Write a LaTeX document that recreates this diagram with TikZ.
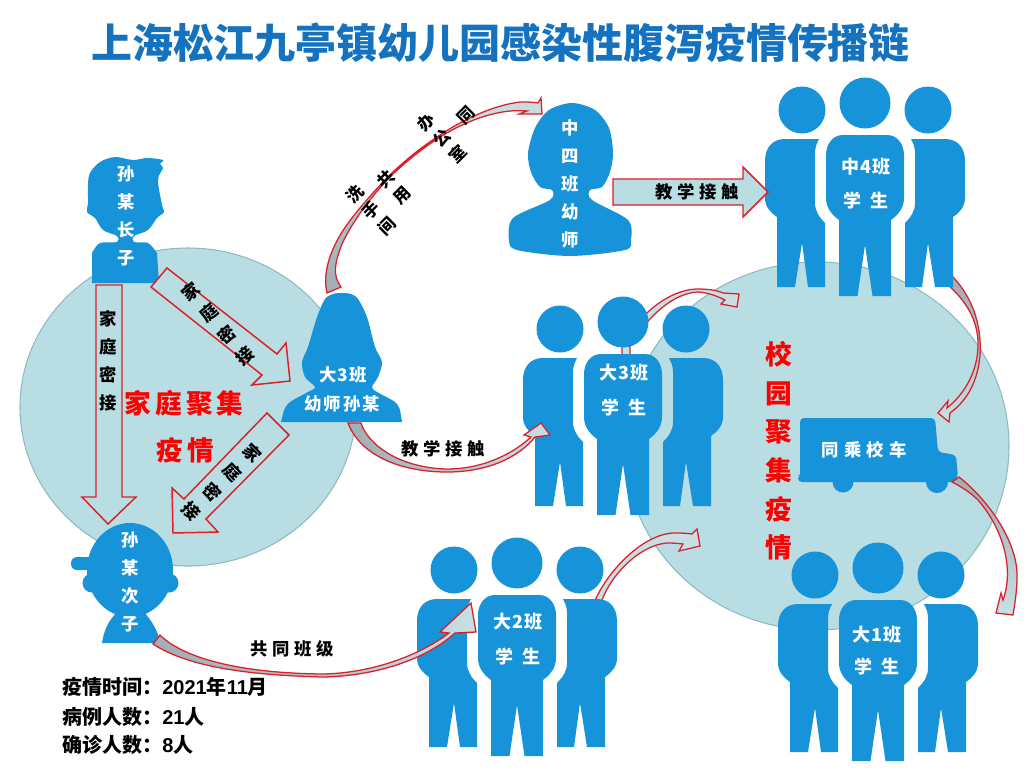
\documentclass[tikz,border=0pt]{standalone}
\usepackage{fontspec}
\setmainfont{Noto Sans CJK SC}
\newfontfamily\digitfont{Liberation Sans}
\definecolor{figblue}{HTML}{1793DA}
\definecolor{pool}{HTML}{B8DDE3}
\definecolor{poolline}{HTML}{8DBBC2}
\definecolor{arrowred}{HTML}{DC1F28}
\definecolor{titleblue}{HTML}{1472BE}
\definecolor{basegray}{HTML}{A0AEB5}
\definecolor{tipblue}{HTML}{C8DFE4}
\tikzset{
  x=0.75pt,y=-0.75pt,
  poolshape/.style={fill=pool,draw=poolline,line width=0.8pt},
  personfill/.style={fill=figblue},
  flatarrow/.style={fill=pool,draw=arrowred,line width=1.1pt,line join=miter},
  taperarrow/.style={draw=arrowred,line width=0.95pt,line join=miter},
  wlabel/.style={text=white,font=\bfseries\fontsize{13}{21}\selectfont,align=center,inner sep=0pt},
  klabel/.style={text=black,font=\bfseries\fontsize{13}{21}\selectfont,align=center,inner sep=0pt},
  rotlabel/.style={text=black,font=\bfseries\fontsize{12.5}{17}\selectfont,align=center,inner sep=0pt},
  rlabel/.style={text=red,font=\bfseries\fontsize{20}{29}\selectfont,align=center,inner sep=0pt},
  info/.style={text=black,font=\bfseries\fontsize{15}{18}\selectfont,anchor=west,inner sep=0pt},
}
\newcommand{\dg}[1]{{\digitfont #1}}
\newcommand{\trio}[2]{%
  \begin{scope}[shift={(#1,#2)}]
    \fill[personfill] (0,0) circle[radius=25.5];
    \fill[personfill] (-22,32) -- (22,32) .. controls (33,32) and (39,42) .. (39,52) -- (39,95)
      .. controls (39,105) and (33,112) .. (26,117) -- (26,193) -- (7.5,193) -- (0,142)
      -- (-7.5,193) -- (-26,193) -- (-26,117) .. controls (-33,112) and (-39,105) .. (-39,95)
      -- (-39,52) .. controls (-39,42) and (-33,32) .. (-22,32) -- cycle;
    \foreach \s in {-1,1}{
      \begin{scope}[xscale=\s]
        \fill[personfill] (-63,7) circle[radius=23.5];
        \fill[personfill] (-46,36) -- (-80,36) .. controls (-92,36) and (-100,44) .. (-100,58)
          -- (-100,95) .. controls (-100,104) and (-94,110) .. (-88,114) -- (-88,184) -- (-70,184)
          -- (-63,140) -- (-57,184) -- (-40,184) -- (-40,120) .. controls (-46,114) and (-50,108) .. (-50,100)
          -- (-50,50) .. controls (-50,44) and (-48,40) .. (-46,36) -- cycle;
      \end{scope}
    }
  \end{scope}}
\begin{document}
\begin{tikzpicture}
\useasboundingbox (0,0) rectangle (1035,779);

% pools
\draw[poolshape] (188,407) ellipse[x radius=168,y radius=159];
\draw[poolshape] (817,446) ellipse[x radius=192,y radius=184];

% arrows that run behind the figures
\path[taperarrow,left color=tipblue,right color=tipblue]
  (622,356) -- (622,346) .. controls (635,320) and (665,290) .. (697,289)
  .. controls (708,289) and (716,290) .. (723,293) -- (739,294) -- (737,307) -- (721,304) -- (725,300)
  .. controls (715,295) and (705,292) .. (697,292) .. controls (668,294) and (642,325) .. (630,346) -- (630,356) -- cycle;
\path[taperarrow,top color=basegray,bottom color=tipblue]
  (948,285) -- (953,277) .. controls (972,297) and (982,325) .. (980,355)
  .. controls (978,380) and (968,400) .. (950,413) -- (949,422) -- (938,413) -- (948,401) -- (947,408)
  .. controls (962,396) and (977,375) .. (978,347) .. controls (979,320) and (965,300) .. (948,285) -- cycle;
\path[taperarrow,left color=tipblue,right color=tipblue]
  (594,603) .. controls (605,575) and (640,535) .. (673,533) .. controls (680,533) and (686,533) .. (692,534)
  -- (697,529) -- (700,546) -- (679,551) -- (683,544) .. controls (675,543) and (670,543) .. (667,543)
  .. controls (640,545) and (610,575) .. (601,603) -- cycle;

% people
\trio{865}{103}
\trio{623}{322}
\trio{517}{563}
\trio{878}{568}

% elder son
\fill[personfill] (92,283) -- plot[smooth,tension=.55] coordinates {(92,253) (100,243) (117,242) (117,236) (103,230) (95,218) (87,212) (88,203) (88,185) (90,173) (100,162) (115,157) (133,160) (147,158) (163,160) (160,164) (163,168) (158,180) (162,205) (164,212) (157,218) (148,230) (134,236) (134,242) (148,243) (157,253)} -- (159,283) -- cycle;
% teacher Sun
\fill[personfill] (281,422) -- plot[smooth,tension=.5] coordinates {(284,410) (290,402) (308,392) (315,387) (305,377) (302,362) (308,347) (317,317) (325,299) (333,294) (342,293) (351,294) (358,299) (367,317) (375,347) (382,362) (378,377) (372,387) (377,392) (395,402) (400,410)} -- (402,422) -- cycle;
% middle-class teacher
\fill[personfill] plot[smooth cycle,tension=.5] coordinates {(572,103) (595,110) (609,128) (613,153) (610,172) (602,187) (590,190) (592,200) (628,220) (631,240) (625,250) (570,256) (517,250) (509,240) (513,218) (550,200) (552,190) (540,187) (531,172) (528,153) (535,128) (549,110)};
% younger son
\fill[personfill] (130,570) ellipse[x radius=43,y radius=47];
\fill[personfill] (92,583) circle[radius=9.5];
\fill[personfill] (169,583) circle[radius=9.5];
\fill[personfill] (102,643) .. controls (104,630) and (108,622) .. (116,613) -- (145,613) .. controls (152,622) and (158,630) .. (160,643) -- cycle;
\fill[personfill,rounded corners=4.5pt] (71,557) rectangle (95,570);
% bus
\fill[personfill,rounded corners=3pt] (800,478) -- (800,418) -- (935,418) -- (938,452) -- (956,455) -- (958,477) -- (954,482) -- (798,482) -- (798,475) -- cycle;
\fill[personfill] (843,482) circle[radius=10.5];
\fill[personfill] (937,482) circle[radius=11];

% straight arrows
\draw[flatarrow] (96,285) -- (122,285) -- (122,497) -- (136,497) -- (108,524) -- (82,497) -- (96,497) -- cycle;
\draw[flatarrow] (167,268) -- (151,287) -- (262,375) -- (252,385) -- (290,381) -- (286,343) -- (277,354) -- cycle;
\draw[flatarrow] (267,413) -- (289,435) -- (206,519) -- (218,532) -- (173,533) -- (172,488) -- (184,499) -- cycle;
\draw[flatarrow] (613,179) -- (743,179) -- (743,167) -- (768,192) -- (743,217) -- (743,205) -- (613,205) -- cycle;

% tapered arrows in front
\path[taperarrow,bottom color=basegray,top color=tipblue]
  (327,293) .. controls (323,275) and (328,255) .. (342,232) .. controls (355,212) and (375,190) .. (393,172)
  .. controls (410,156) and (425,145) .. (437,137) .. controls (465,118) and (495,105) .. (520,102)
  .. controls (527,102) and (533,102) .. (538,103) -- (541,98) -- (542,114) -- (519,114) -- (527,111)
  .. controls (495,108) and (460,124) .. (437,139) .. controls (425,147) and (410,158) .. (393,174)
  .. controls (372,195) and (352,222) .. (342,244) .. controls (335,262) and (332,275) .. (341,287) -- cycle;
\path[taperarrow,left color=basegray,right color=tipblue]
  (348,423) -- (361,423) .. controls (368,445) and (400,468) .. (447,469)
  .. controls (485,469) and (515,452) .. (531,437) -- (524,435) -- (541,423) -- (550,435) -- (535,437)
  .. controls (518,458) and (487,472) .. (447,472) .. controls (400,472) and (360,455) .. (348,423) -- cycle;
\path[taperarrow,left color=basegray,right color=tipblue]
  (160,635) .. controls (180,655) and (230,673) .. (323,674) .. controls (373,673) and (420,655) .. (449,633)
  -- (440,632) -- (471,603) -- (476,632) -- (455,633) .. controls (425,660) and (375,676) .. (323,677)
  .. controls (240,675) and (185,665) .. (153,644) -- cycle;
\path[taperarrow,top color=basegray,bottom color=tipblue]
  (959,477) .. controls (985,497) and (1018,540) .. (1017,577) .. controls (1017,590) and (1015,603) .. (1013,615)
  -- (996,613) -- (1001,593) -- (1003,600) .. controls (1014,570) and (1004,530) .. (978,500)
  .. controls (970,492) and (960,486) .. (952,482) -- cycle;

% title
\node[inner sep=0pt,text=titleblue,font=\bfseries\fontsize{30.7}{36}\selectfont] (title) at (500.5,43) {上海松江九亭镇幼儿园感染性腹泻疫情传播链};

% figure labels
\node[wlabel] (elder) at (126,215.5) {孙\\某\\长\\子};
\node[wlabel] (younger) at (130,581.5) {孙\\某\\次\\子};
\node[wlabel] (midteacher) at (570,184) {中\\四\\班\\幼\\师};
\node[wlabel] (sunA) at (343,375) {\addfontfeature{LetterSpace=8}大3班};
\node[wlabel] (sunB) at (342,404) {\addfontfeature{LetterSpace=12}幼师孙某};
\node[wlabel] (bus) at (864,450) {\addfontfeature{LetterSpace=30}同乘校车};
\node[wlabel,font=\bfseries\fontsize{13.5}{25.5}\selectfont] (c4) at (866,184) {\addfontfeature{LetterSpace=8}中4班\\\addfontfeature{LetterSpace=45}学生};
\node[wlabel,font=\bfseries\fontsize{13.5}{26}\selectfont] (b3) at (624,390) {\addfontfeature{LetterSpace=8}大3班\\\addfontfeature{LetterSpace=45}学生};
\node[wlabel,font=\bfseries\fontsize{13.5}{26}\selectfont] (b2) at (518,639) {\addfontfeature{LetterSpace=8}大2班\\\addfontfeature{LetterSpace=45}学生};
\node[wlabel,font=\bfseries\fontsize{13.5}{24}\selectfont] (b1) at (877,651) {\addfontfeature{LetterSpace=8}大1班\\\addfontfeature{LetterSpace=45}学生};

% arrow labels
\node[klabel] (fam1) at (108,361) {家\\庭\\密\\接};
\node[klabel,rotate=40] (fam2) at (218,324) {家\\庭\\密\\接};
\node[klabel,rotate=-46] (fam3) at (222,482) {家\\庭\\密\\接};
\node[klabel] (teach1) at (697,192) {\addfontfeature{LetterSpace=28}教学接触};
\node[klabel] (teach2) at (443,449) {\addfontfeature{LetterSpace=28}教学接触};
\node[klabel] (sameclass) at (292,649) {\addfontfeature{LetterSpace=28}共同班级};
\node[rotlabel,rotate=45] (share1) at (394,187) {共\\用};
\node[rotlabel,rotate=45] (share2) at (371,210) {洗\\手\\间};
\node[rotlabel,rotate=45] (office1) at (466,115) {同};
\node[rotlabel,rotate=45] (office2) at (442,138) {办\\公\\室};

% red captions
\node[rlabel] (family1) at (184,403) {\addfontfeature{LetterSpace=15}家庭聚集};
\node[rlabel] (family2) at (185,450) {\addfontfeature{LetterSpace=15}疫情};
\node[rlabel] (school) at (779,451) {校\\园\\聚\\集\\疫\\情};

% facts
\node[info] (fact1) at (62,687) {疫情时间：\dg{2021}年\dg{11}月};
\node[info] (fact2) at (62,717) {病例人数：\dg{21}人};
\node[info] (fact3) at (62,745) {确诊人数：\dg{8}人};
\end{tikzpicture}
\end{document}
